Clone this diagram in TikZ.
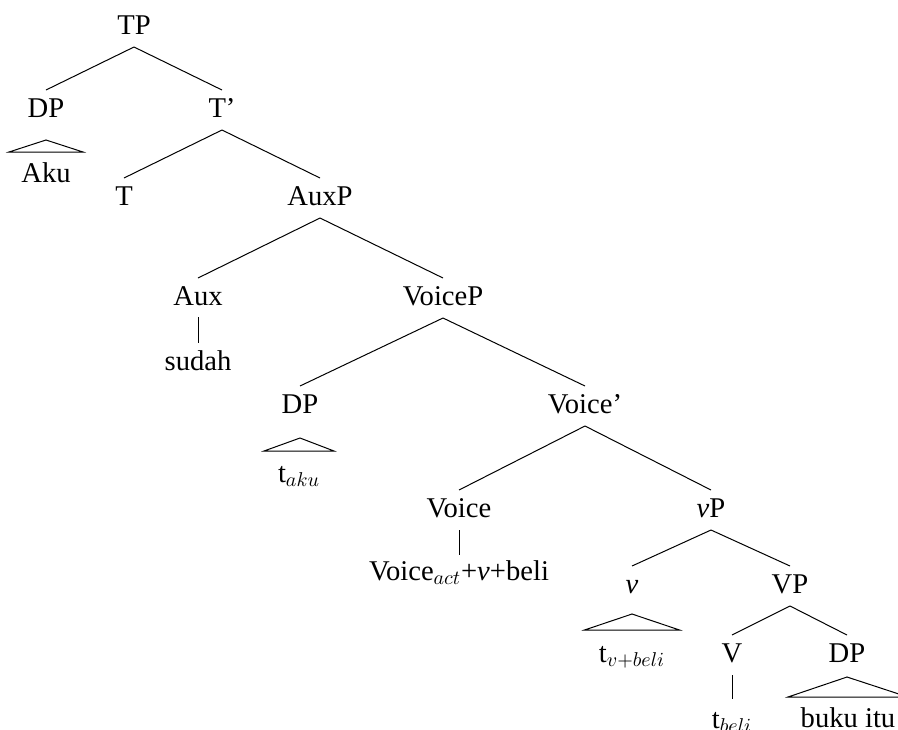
\documentclass[tikz,border=0pt]{standalone}
\usepackage{fontspec}
\setmainfont{Liberation Serif}
\usetikzlibrary{calc}
\begin{document}
\begin{tikzpicture}[x=0.5pt,y=-0.5pt,
  lab/.style={anchor=base,inner sep=0pt,font=\fontsize{14.3pt}{17pt}\selectfont},
  br/.style={line width=0.5pt},
  roof/.style={line width=0.5pt,line join=miter}]
\useasboundingbox (0,0) rectangle (898,729);
% nodes
\node[lab] (TP) at (134,34) {TP};
\node[lab] (DPa) at (46,117) {DP};
\node[lab] (Tb) at (222,117) {T'};
\node[lab] (aku) at (46,182) {Aku};
\node[lab] (T) at (124,205) {T};
\node[lab] (AuxP) at (320,205) {AuxP};
\node[lab] (Aux) at (198,305) {Aux};
\node[lab] (VoiceP) at (443,305) {VoiceP};
\node[lab] (sudah) at (198,370) {sudah};
\node[lab] (DPb) at (300,413) {DP};
\node[lab] (Voiceb) at (585,413) {Voice'};
\node[lab] (taku) at (299,482) {t$_{aku}$};
\node[lab] (Voice) at (459,517) {Voice};
\node[lab] (vP) at (711,517) {\textit{v}P};
\node[lab] (vact) at (459,580) {Voice$_{act}$+\textit{v}+beli};
\node[lab] (v) at (632,593) {\textit{v}};
\node[lab] (VP) at (790,593) {VP};
\node[lab] (tvb) at (632,662) {t$_{v+beli}$};
\node[lab] (V) at (732,662) {V};
\node[lab] (DPc) at (847,662) {DP};
\node[lab] (tb) at (732,728) {t$_{beli}$};
\node[lab] (buku) at (848,727) {buku itu};
% branches
\foreach \p/\c in {TP/DPa,TP/Tb,Tb/T,Tb/AuxP,AuxP/Aux,AuxP/VoiceP,VoiceP/DPb,VoiceP/Voiceb,Voiceb/Voice,Voiceb/vP,vP/v,vP/VP,VP/V,VP/DPc}
  \draw[br] ($(\p.base)+(0,13)$) -- ($(\c.base)+(0,-27)$);
% unary lines
\draw[br] ($(Aux.base)+(0,12)$) -- ($(sudah.base)+(0,-27)$);
\draw[br] ($(Voice.base)+(0,13)$) -- ($(vact.base)+(0,-25)$);
\draw[br] ($(V.base)+(0,13)$) -- ($(tb.base)+(0,-29)$);
% roofs
\draw[roof] ($(DPa.base)+(0,23)$) -- ($(aku.base)+(-37,-30)$) -- ($(aku.base)+(37,-30)$) -- cycle;
\draw[roof] ($(DPb.base)+(0,25)$) -- ($(taku.base)+(-35,-31)$) -- ($(taku.base)+(35,-31)$) -- cycle;
\draw[roof] ($(v.base)+(0,21)$) -- ($(tvb.base)+(-47.5,-32)$) -- ($(tvb.base)+(47.5,-32)$) -- cycle;
\draw[roof] ($(DPc.base)+(0,15)$) -- ($(buku.base)+(-60,-30)$) -- ($(buku.base)+(60,-30)$) -- cycle;
\end{tikzpicture}
\end{document}
